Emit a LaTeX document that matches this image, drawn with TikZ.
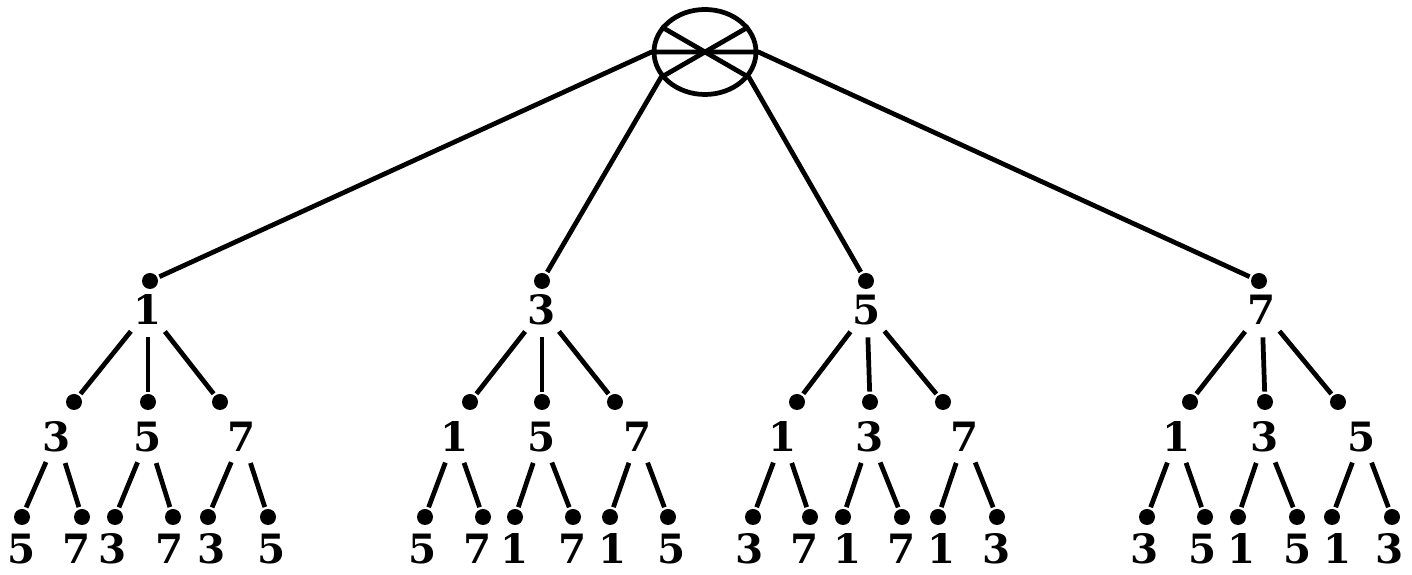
\documentclass[tikz,border=0pt]{standalone}
\usepackage{fontspec}
\newfontfamily\digitfont{DejaVu Serif}
\usetikzlibrary{shapes.geometric}
\begin{document}
\begin{tikzpicture}[x=0.1mm,y=-0.1mm, line width=1.35pt,
  vdot/.style={circle, fill, inner sep=0pt, minimum size=1.6mm},
  vlab/.style={circle, inner sep=0pt, minimum size=5mm, font=\digitfont\fontsize{11.5}{14}\selectfont\bfseries}]
\useasboundingbox (0,0) rectangle (1412,575);
% root
\node[draw, ellipse, inner sep=0pt, minimum width=10.2mm, minimum height=8.5mm] (root) at (705,52) {};
% first level
\node[vdot] (d1) at (150,281) {}; \node[vlab] (l1) at (148,310) {1};
\node[vdot] (d3) at (542,281) {}; \node[vlab] (l3) at (542,310) {3};
\node[vdot] (d5) at (866,281) {}; \node[vlab] (l5) at (867,310) {5};
\node[vdot] (d7) at (1259,281) {}; \node[vlab] (l7) at (1262,310) {7};
% second level
\node[vdot] (d13) at (74,402) {}; \node[vlab] (l13) at (57,437) {3};
\node[vdot] (d15) at (148,402) {}; \node[vlab] (l15) at (148,437) {5};
\node[vdot] (d17) at (220,402) {}; \node[vlab] (l17) at (242,437) {7};
\node[vdot] (d31) at (470,402) {}; \node[vlab] (l31) at (455,437) {1};
\node[vdot] (d35) at (542,402) {}; \node[vlab] (l35) at (542,437) {5};
\node[vdot] (d37) at (615,402) {}; \node[vlab] (l37) at (638,437) {7};
\node[vdot] (d51) at (797,402) {}; \node[vlab] (l51) at (783,437) {1};
\node[vdot] (d53) at (870,402) {}; \node[vlab] (l53) at (870,437) {3};
\node[vdot] (d57) at (943,402) {}; \node[vlab] (l57) at (965,437) {7};
\node[vdot] (d71) at (1190,402) {}; \node[vlab] (l71) at (1177,437) {1};
\node[vdot] (d73) at (1265,402) {}; \node[vlab] (l73) at (1265,437) {3};
\node[vdot] (d75) at (1338,402) {}; \node[vlab] (l75) at (1362,437) {5};
% third level
\node[vdot] (d135) at (22,517) {}; \node[vlab] (l135) at (22,549) {5};
\node[vdot] (d137) at (82,517) {}; \node[vlab] (l137) at (77,549) {7};
\node[vdot] (d153) at (115,517) {}; \node[vlab] (l153) at (113,549) {3};
\node[vdot] (d157) at (173,517) {}; \node[vlab] (l157) at (170,549) {7};
\node[vdot] (d173) at (208,517) {}; \node[vlab] (l173) at (212,549) {3};
\node[vdot] (d175) at (268,517) {}; \node[vlab] (l175) at (272,549) {5};
\node[vdot] (d315) at (425,517) {}; \node[vlab] (l315) at (423,549) {5};
\node[vdot] (d317) at (483,517) {}; \node[vlab] (l317) at (478,549) {7};
\node[vdot] (d351) at (515,517) {}; \node[vlab] (l351) at (515,549) {1};
\node[vdot] (d357) at (573,517) {}; \node[vlab] (l357) at (573,549) {7};
\node[vdot] (d371) at (610,517) {}; \node[vlab] (l371) at (613,549) {1};
\node[vdot] (d375) at (668,517) {}; \node[vlab] (l375) at (672,549) {5};
\node[vdot] (d513) at (753,517) {}; \node[vlab] (l513) at (750,549) {3};
\node[vdot] (d517) at (810,517) {}; \node[vlab] (l517) at (805,549) {7};
\node[vdot] (d531) at (843,517) {}; \node[vlab] (l531) at (848,549) {1};
\node[vdot] (d537) at (902,517) {}; \node[vlab] (l537) at (902,549) {7};
\node[vdot] (d571) at (938,517) {}; \node[vlab] (l571) at (942,549) {1};
\node[vdot] (d573) at (997,517) {}; \node[vlab] (l573) at (997,549) {3};
\node[vdot] (d713) at (1147,517) {}; \node[vlab] (l713) at (1145,549) {3};
\node[vdot] (d715) at (1205,517) {}; \node[vlab] (l715) at (1203,549) {5};
\node[vdot] (d731) at (1238,517) {}; \node[vlab] (l731) at (1242,549) {1};
\node[vdot] (d735) at (1297,517) {}; \node[vlab] (l735) at (1298,549) {5};
\node[vdot] (d751) at (1332,517) {}; \node[vlab] (l751) at (1338,549) {1};
\node[vdot] (d753) at (1392,517) {}; \node[vlab] (l753) at (1390,549) {3};
% edges from the root
\draw (d1) -- (root.west) -- (root.east) -- (d7);
\draw (d3) -- (root.210) -- (root.30);
\draw (d5) -- (root.330) -- (root.150);
% edges to the second level
\draw (l1) -- (d13); \draw (l1) -- (d15); \draw (l1) -- (d17);
\draw (l3) -- (d31); \draw (l3) -- (d35); \draw (l3) -- (d37);
\draw (l5) -- (d51); \draw (l5) -- (d53); \draw (l5) -- (d57);
\draw (l7) -- (d71); \draw (l7) -- (d73); \draw (l7) -- (d75);
% edges to the third level
\draw (l13) -- (d135); \draw (l13) -- (d137);
\draw (l15) -- (d153); \draw (l15) -- (d157);
\draw (l17) -- (d173); \draw (l17) -- (d175);
\draw (l31) -- (d315); \draw (l31) -- (d317);
\draw (l35) -- (d351); \draw (l35) -- (d357);
\draw (l37) -- (d371); \draw (l37) -- (d375);
\draw (l51) -- (d513); \draw (l51) -- (d517);
\draw (l53) -- (d531); \draw (l53) -- (d537);
\draw (l57) -- (d571); \draw (l57) -- (d573);
\draw (l71) -- (d713); \draw (l71) -- (d715);
\draw (l73) -- (d731); \draw (l73) -- (d735);
\draw (l75) -- (d751); \draw (l75) -- (d753);
\end{tikzpicture}
\end{document}
